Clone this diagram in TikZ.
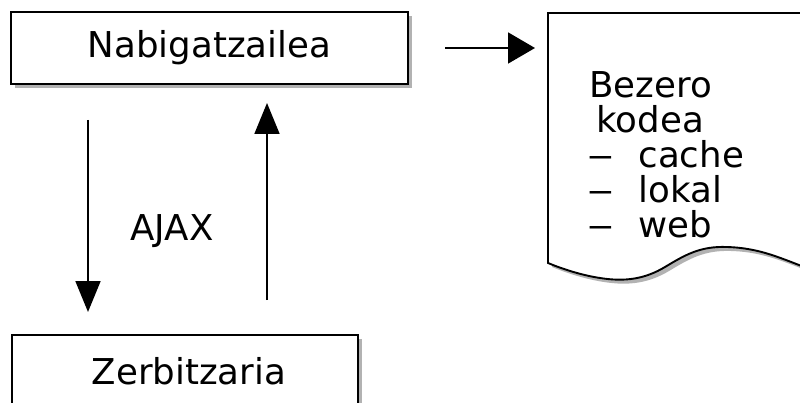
\documentclass[tikz,border=0pt]{standalone}
\usepackage{fontspec}
\usepackage{graphicx}
\setmainfont{DejaVu Sans}
\usetikzlibrary{arrows.meta,shadows}
\begin{document}
\begin{tikzpicture}[x=1pt,y=-1pt,
  lbl/.style={font=\fontsize{35.6}{35}\selectfont},
  boxshadow/.style={drop shadow={shadow xshift=4pt,shadow yshift=-4pt,opacity=0.3,fill=black}},
  box/.style={draw,line width=1.9pt,fill=white,boxshadow,inner sep=0pt,lbl},
  arr/.style={line width=1.8pt,-{Triangle[length=31pt,width=25pt]}},
  harr/.style={line width=1.8pt,-{Triangle[length=27pt,width=31pt]}}]
\useasboundingbox (0,0) rectangle (800,403);
\clip (0,0) rectangle (800,403);
% boxes
\node[box,minimum width=397pt,minimum height=72pt] (nab) at (209.5,48) {Nabigatzailea};
\node[box,minimum width=346pt,minimum height=76pt] (zer) at (185,373) {};
\node[lbl,anchor=center] (zert) at (189,371) {Zerbitzaria};
% document
\path[draw,line width=1.9pt,fill=white,boxshadow]
  (548,13) -- (812,13) -- (812,270)
  .. controls (780,258) and (760,248) .. (727,247)
  .. controls (700,246) and (685,255) .. (665,267)
  .. controls (645,279) and (625,282) .. (600,278)
  .. controls (580,275) and (560,268) .. (548,263) -- cycle;
\node[lbl,anchor=base west] (l1) at (586,98) {Bezero};
\node[lbl,anchor=base west] (l2) at (593,133) {kodea};
\node[lbl,anchor=base west] (d3) at (584,168) {\scalebox{1.5}[1]{–}};
\node[lbl,anchor=base west] (l3) at (635,168) {cache};
\node[lbl,anchor=base west] (d4) at (584,203) {\scalebox{1.5}[1]{–}};
\node[lbl,anchor=base west] (l4) at (635,203) {lokal};
\node[lbl,anchor=base west] (d5) at (584,238) {\scalebox{1.5}[1]{–}};
\node[lbl,anchor=base west] (l5) at (635,238) {web};
% label
\node[lbl] (ajax) at (172,231) {AJAX};
% arrows
\coordinate (a1) at (88,120);
\coordinate (a2) at (88,312);
\coordinate (b1) at (267,300);
\coordinate (b2) at (267,103);
\coordinate (c1) at (445,48);
\coordinate (c2) at (535,48);
\draw[arr] (a1) -- (a2);
\draw[arr] (b1) -- (b2);
\draw[harr] (c1) -- (c2);
\end{tikzpicture}
\end{document}
